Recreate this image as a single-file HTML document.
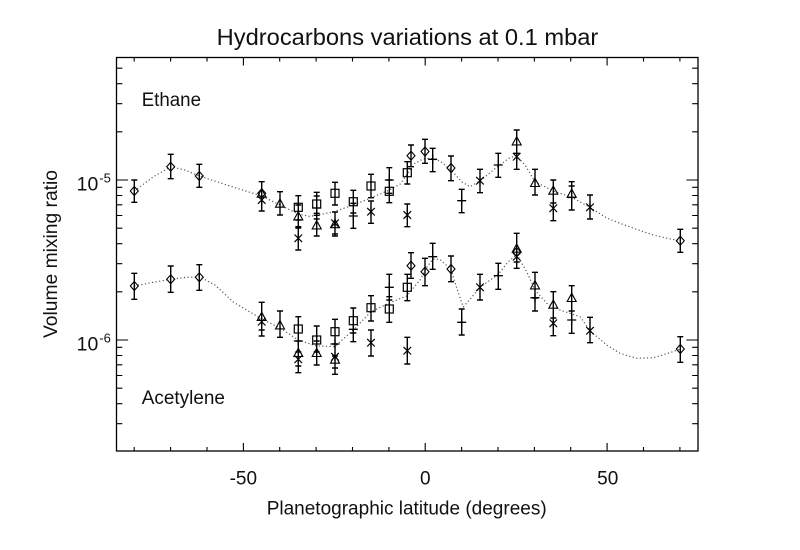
<!DOCTYPE html>
<html><head><meta charset="utf-8"><style>
html,body{margin:0;padding:0;background:#fff;}
svg{display:block;}
text{font-family:"Liberation Sans",Arial,Helvetica,sans-serif;fill:#111;}
</style></head><body>
<svg width="800" height="550" viewBox="0 0 800 550" xmlns="http://www.w3.org/2000/svg" xmlns:xlink="http://www.w3.org/1999/xlink">
<rect width="800" height="550" fill="#fff"/>
<defs>
<path id="D" d="M0 -4.5L4 0L0 4.5L-4 0Z" fill="none" stroke="#000" stroke-width="1.1"/>
<path id="T" d="M0 -5L4.5 3.2L-4.5 3.2Z" fill="none" stroke="#000" stroke-width="1.1"/>
<rect id="S" x="-4" y="-4" width="8" height="8" fill="none" stroke="#000" stroke-width="1.2"/>
<path id="A" d="M-3.8 -3.8L3.8 3.8M-3.8 3.8L3.8 -3.8M0 -4.5V4.5" fill="none" stroke="#000" stroke-width="1.2"/>
<path id="P" d="M-4.5 0H4.5M0 -4.5V4.5" fill="none" stroke="#000" stroke-width="1.3"/>
</defs>

<!-- Title -->
<text x="216.7" y="45" font-size="23" textLength="381.6" lengthAdjust="spacingAndGlyphs">Hydrocarbons variations at 0.1 mbar</text>

<!-- frame -->
<rect x="116.5" y="57.5" width="581.5" height="393.5" fill="none" stroke="#000" stroke-width="1.3"/>

<!-- x ticks bottom & top -->
<path stroke="#000" stroke-width="1.1" fill="none" d="
M134.2 451v-4M170.6 451v-4M207 451v-4M243.4 451v-8M279.7 451v-4M316.1 451v-4M352.5 451v-4M388.9 451v-4M425.2 451v-8M461.6 451v-4M498 451v-4M534.4 451v-4M570.7 451v-4M607.1 451v-8M643.5 451v-4M679.9 451v-4
M134.2 57.5v4M170.6 57.5v4M207 57.5v4M243.4 57.5v8M279.7 57.5v4M316.1 57.5v4M352.5 57.5v4M388.9 57.5v4M425.2 57.5v8M461.6 57.5v4M498 57.5v4M534.4 57.5v4M570.7 57.5v4M607.1 57.5v8M643.5 57.5v4M679.9 57.5v4"/>

<!-- y ticks left/right -->
<path stroke="#000" stroke-width="1.1" fill="none" d="
M116.5 180h11.6M116.5 340h11.6
M116.5 68.2h5.8M116.5 83.7h5.8M116.5 103.7h5.8M116.5 131.8h5.8
M116.5 187.3h5.8M116.5 195.5h5.8M116.5 204.8h5.8M116.5 215.5h5.8M116.5 228.2h5.8M116.5 243.7h5.8M116.5 263.7h5.8M116.5 291.8h5.8
M116.5 347.3h5.8M116.5 355.5h5.8M116.5 364.8h5.8M116.5 375.5h5.8M116.5 388.2h5.8M116.5 403.7h5.8M116.5 423.7h5.8
M698 180h-11.6M698 340h-11.6
M698 68.2h-5.8M698 83.7h-5.8M698 103.7h-5.8M698 131.8h-5.8
M698 187.3h-5.8M698 195.5h-5.8M698 204.8h-5.8M698 215.5h-5.8M698 228.2h-5.8M698 243.7h-5.8M698 263.7h-5.8M698 291.8h-5.8
M698 347.3h-5.8M698 355.5h-5.8M698 364.8h-5.8M698 375.5h-5.8M698 388.2h-5.8M698 403.7h-5.8M698 423.7h-5.8"/>

<!-- tick labels -->
<text x="243.3" y="484.5" font-size="19" text-anchor="middle">-50</text>
<text x="425.3" y="484.5" font-size="19" text-anchor="middle">0</text>
<text x="607.7" y="484.5" font-size="19" text-anchor="middle">50</text>
<text x="76.7" y="190.7" font-size="19" textLength="21.6" lengthAdjust="spacingAndGlyphs">10</text>
<text x="99.3" y="182.7" font-size="13">-5</text>
<text x="76.7" y="350.3" font-size="19" textLength="21.6" lengthAdjust="spacingAndGlyphs">10</text>
<text x="99.3" y="342.7" font-size="13">-6</text>

<!-- axis labels -->
<text x="266.7" y="514.5" font-size="19" textLength="280" lengthAdjust="spacingAndGlyphs">Planetographic latitude (degrees)</text>
<text transform="translate(57,254) rotate(-90)" font-size="19" text-anchor="middle" textLength="168" lengthAdjust="spacingAndGlyphs">Volume mixing ratio</text>

<!-- species labels -->
<text x="141.7" y="106" font-size="19" textLength="59.3" lengthAdjust="spacingAndGlyphs">Ethane</text>
<text x="141.7" y="404" font-size="19" textLength="83.3" lengthAdjust="spacingAndGlyphs">Acetylene</text>

<!-- fitted curves -->
<polyline fill="none" stroke="#555" stroke-width="1.2" stroke-dasharray="1.2 2.4" stroke-linejoin="round"
points="134.3,191 153,177 170.7,166.7 185,170 199.3,176 233,187 261.7,196 280,205 298.3,214 310,216.5 333,212 353.3,205 370,198.3 389.3,190 400,184.3 407.3,174 415,163.3 423,159 430,158.3 440,161 451,170 462,182 470,186.7 480,181 498.3,166 510,157.5 516.7,156 525,165 535,181.7 553.3,191 571.7,197.3 590,207.3 606.7,218 620,223.3 637,229.5 653.3,235 668,238.5 680.3,240.7"/>
<polyline fill="none" stroke="#555" stroke-width="1.2" stroke-dasharray="1.2 2.4" stroke-linejoin="round"
points="134.3,286 152,282.5 170.7,279.3 185,277.5 199.3,276.7 215,285 233.3,302 261.7,319 280,328 298.3,340 316.7,346 335,346.5 353.3,330 371,311.7 389.3,303 406.7,296 420,280 427,267 433,259 440,259.5 451,269.3 456.7,288 463.3,307 471,298 480,287.3 498.3,274.3 508,262 516.7,254.3 526.7,271.7 535,290 546.7,303.3 560,310 580,316.7 590,330.7 606.7,345 620,353.3 636.7,358.3 653.3,357.7 670,352.7 680.3,349"/>

<!-- error bars ethane -->
<path fill="none" stroke="#000" stroke-width="1.4" d="
M134.3 180V202.3M131.3 180h6M131.3 202.3h6
M170.7 154.3V178.7M167.7 154.3h6M167.7 178.7h6
M199.3 164.3V187.3M196.3 164.3h6M196.3 187.3h6
M261.7 181.7V211M258.7 181.7h6M258.7 211h6
M280 191.7V215M277 191.7h6M277 215h6
M298.3 195.7V220M295.3 195.7h6M295.3 220h6
M298.3 205V228M295.3 205h6M295.3 228h6
M298.3 226.7V250M295.3 226.7h6M295.3 250h6
M316.7 192.3V215.3M313.7 192.3h6M313.7 215.3h6
M316.7 196V219M313.7 196h6M313.7 219h6
M316.7 213.3V236M313.7 213.3h6M313.7 236h6
M335 182.3V205M332 182.3h6M332 205h6
M335 212V234M332 212h6M332 234h6
M335 212V236M332 236h6
M353.3 190.3V213M350.3 190.3h6M350.3 213h6
M353.3 203.3V228.3M350.3 203.3h6M350.3 228.3h6
M371 174.3V197.7M368 174.3h6M368 197.7h6
M371 201V223.3M368 201h6M368 223.3h6
M389.3 180V202.7M386.3 180h6M386.3 202.7h6
M389.3 167.7V193.3M386.3 167.7h6M386.3 193.3h6
M407.3 161.7V184M404.3 161.7h6M404.3 184h6
M407.3 204V226.7M404.3 204h6M404.3 226.7h6
M411 145V166.7M408 145h6M408 166.7h6
M425 139.3V163.3M422 139.3h6M422 163.3h6
M432.7 148.3V171.7M429.7 148.3h6M429.7 171.7h6
M451 156V180.7M448 156h6M448 180.7h6
M461.7 189.3V212.7M458.7 189.3h6M458.7 212.7h6
M480 169.3V192.7M477 169.3h6M477 192.7h6
M498.3 153.3V177.3M495.3 153.3h6M495.3 177.3h6
M516.7 130V153.3M513.7 130h6M513.7 153.3h6
M516.7 145V169.3M513.7 169.3h6
M535 169.3V195M532 169.3h6M532 195h6
M553.3 180V203M550.3 180h6M550.3 203h6
M553.3 197V220.7M550.3 220.7h6
M571.7 181.7V210M568.7 181.7h6M568.7 210h6
M571.7 186V209M568.7 186h6
M590 195V219M587 195h6M587 219h6
M680.3 229.3V252.3M677.3 229.3h6M677.3 252.3h6"/>

<!-- error bars acetylene -->
<path fill="none" stroke="#000" stroke-width="1.4" d="
M134.3 273.3V299.3M131.3 273.3h6M131.3 299.3h6
M170.7 266V292.3M167.7 266h6M167.7 292.3h6
M199.3 264.7V290.3M196.3 264.7h6M196.3 290.3h6
M261.7 302.3V330M258.7 302.3h6M258.7 330h6
M261.7 308V336M258.7 336h6
M280 311V337.3M277 311h6M277 337.3h6
M298.3 316.7V341M295.3 316.7h6M295.3 341h6
M298.3 330V352M295.3 352h6
M298.3 341V366M295.3 366h6
M298.3 347V372.7M295.3 372.7h6
M316.7 326V352M313.7 326h6M313.7 352h6
M316.7 341V365M313.7 341h6M313.7 365h6
M335 319.3V344M332 319.3h6M332 344h6
M335 333V356M332 356h6
M335 345V368M332 368h6
M335 348V374.3M332 374.3h6
M353.3 308V333M350.3 308h6M350.3 333h6
M353.3 317V341.7M350.3 341.7h6
M371 295.7V321M368 295.7h6M368 321h6
M371 330V356M368 330h6M368 356h6
M389.3 296.7V322.3M386.3 296.7h6M386.3 322.3h6
M389.3 274.3V300M386.3 274.3h6M386.3 300h6
M407.3 274.3V300.7M404.3 274.3h6M404.3 300.7h6
M407.3 337.3V364M404.3 337.3h6M404.3 364h6
M411 252.7V278.3M408 252.7h6M408 278.3h6
M425 258.3V285.7M422 258.3h6M422 285.7h6
M432.7 243.3V269.3M429.7 243.3h6M429.7 269.3h6
M451 256V281.7M448 256h6M448 281.7h6
M461.7 309V335M458.7 309h6M458.7 335h6
M480 274.3V300M477 274.3h6M477 300h6
M498.3 263.3V289.3M495.3 263.3h6M495.3 289.3h6
M516.7 233.3V262M513.7 233.3h6M513.7 262h6
M516.7 240V268.3M513.7 268.3h6
M535 272.3V298M532 272.3h6M532 298h6
M535 285V311M532 311h6
M553.3 291.7V318M550.3 291.7h6M550.3 318h6
M553.3 311V335.7M550.3 335.7h6
M571.7 285.7V311M568.7 285.7h6M568.7 311h6
M571.7 307V333.3M568.7 333.3h6
M590 317.3V342.7M587 317.3h6M587 342.7h6
M680.3 336.7V362.3M677.3 336.7h6M677.3 362.3h6"/>

<!-- markers ethane -->
<use href="#D" x="134.3" y="191"/><use href="#D" x="170.7" y="166.7"/><use href="#D" x="199.3" y="176"/><use href="#D" x="261.7" y="193.3"/><use href="#D" x="411" y="155.7"/><use href="#D" x="425" y="151.5"/><use href="#D" x="451" y="168"/><use href="#D" x="680.3" y="240.7"/>
<use href="#T" x="261.7" y="194"/><use href="#T" x="280" y="204"/><use href="#T" x="298.3" y="216.7"/><use href="#T" x="316.7" y="225.7"/><use href="#T" x="335" y="224.5"/><use href="#T" x="516.7" y="141.7"/><use href="#T" x="535" y="183.3"/><use href="#T" x="553.3" y="191"/><use href="#T" x="571.7" y="194"/>
<use href="#S" x="298.3" y="207.3"/><use href="#S" x="316.7" y="204"/><use href="#S" x="335" y="193.3"/><use href="#S" x="353.3" y="201.7"/><use href="#S" x="371" y="186"/><use href="#S" x="389.3" y="191.3"/><use href="#S" x="407.3" y="172.7"/>
<use href="#A" x="261.7" y="200"/><use href="#A" x="298.3" y="238.3"/><use href="#A" x="335" y="223.3"/><use href="#A" x="371" y="211.7"/><use href="#A" x="407.3" y="215"/><use href="#A" x="480" y="180.7"/><use href="#A" x="516.7" y="156.7"/><use href="#A" x="553.3" y="208.3"/><use href="#A" x="590" y="207.3"/>
<use href="#P" x="316.7" y="208"/><use href="#P" x="353.3" y="216"/><use href="#P" x="389.3" y="180"/><use href="#P" x="432.7" y="159.3"/><use href="#P" x="461.7" y="200.7"/><use href="#P" x="498.3" y="165"/><use href="#P" x="571.7" y="197.5"/>

<!-- markers acetylene -->
<use href="#D" x="134.3" y="286"/><use href="#D" x="170.7" y="279.3"/><use href="#D" x="199.3" y="277.3"/><use href="#D" x="411" y="265.7"/><use href="#D" x="425" y="271.7"/><use href="#D" x="451" y="269"/><use href="#D" x="516.7" y="252"/><use href="#D" x="680.3" y="349"/>
<use href="#T" x="261.7" y="317.3"/><use href="#T" x="280" y="325.7"/><use href="#T" x="298.3" y="353.3"/><use href="#T" x="316.7" y="353.3"/><use href="#T" x="335" y="360"/><use href="#T" x="516.7" y="249"/><use href="#T" x="535" y="285.7"/><use href="#T" x="553.3" y="305"/><use href="#T" x="571.7" y="298.3"/>
<use href="#S" x="298.3" y="329"/><use href="#S" x="316.7" y="340"/><use href="#S" x="335" y="331.7"/><use href="#S" x="353.3" y="320.7"/><use href="#S" x="371" y="307.7"/><use href="#S" x="389.3" y="309"/><use href="#S" x="407.3" y="287.3"/>
<use href="#A" x="261.7" y="321.7"/><use href="#A" x="298.3" y="359.3"/><use href="#A" x="335" y="356.7"/><use href="#A" x="371" y="342.7"/><use href="#A" x="407.3" y="350.7"/><use href="#A" x="480" y="287.3"/><use href="#A" x="516.7" y="256.7"/><use href="#A" x="553.3" y="323.3"/><use href="#A" x="590" y="330.7"/>
<use href="#P" x="298.3" y="341"/><use href="#P" x="335" y="344"/><use href="#P" x="353.3" y="329.3"/><use href="#P" x="389.3" y="287.3"/><use href="#P" x="432.7" y="256.7"/><use href="#P" x="461.7" y="322.3"/><use href="#P" x="498.3" y="275.7"/><use href="#P" x="535" y="297.7"/><use href="#P" x="571.7" y="320"/>
</svg>
</body></html>
